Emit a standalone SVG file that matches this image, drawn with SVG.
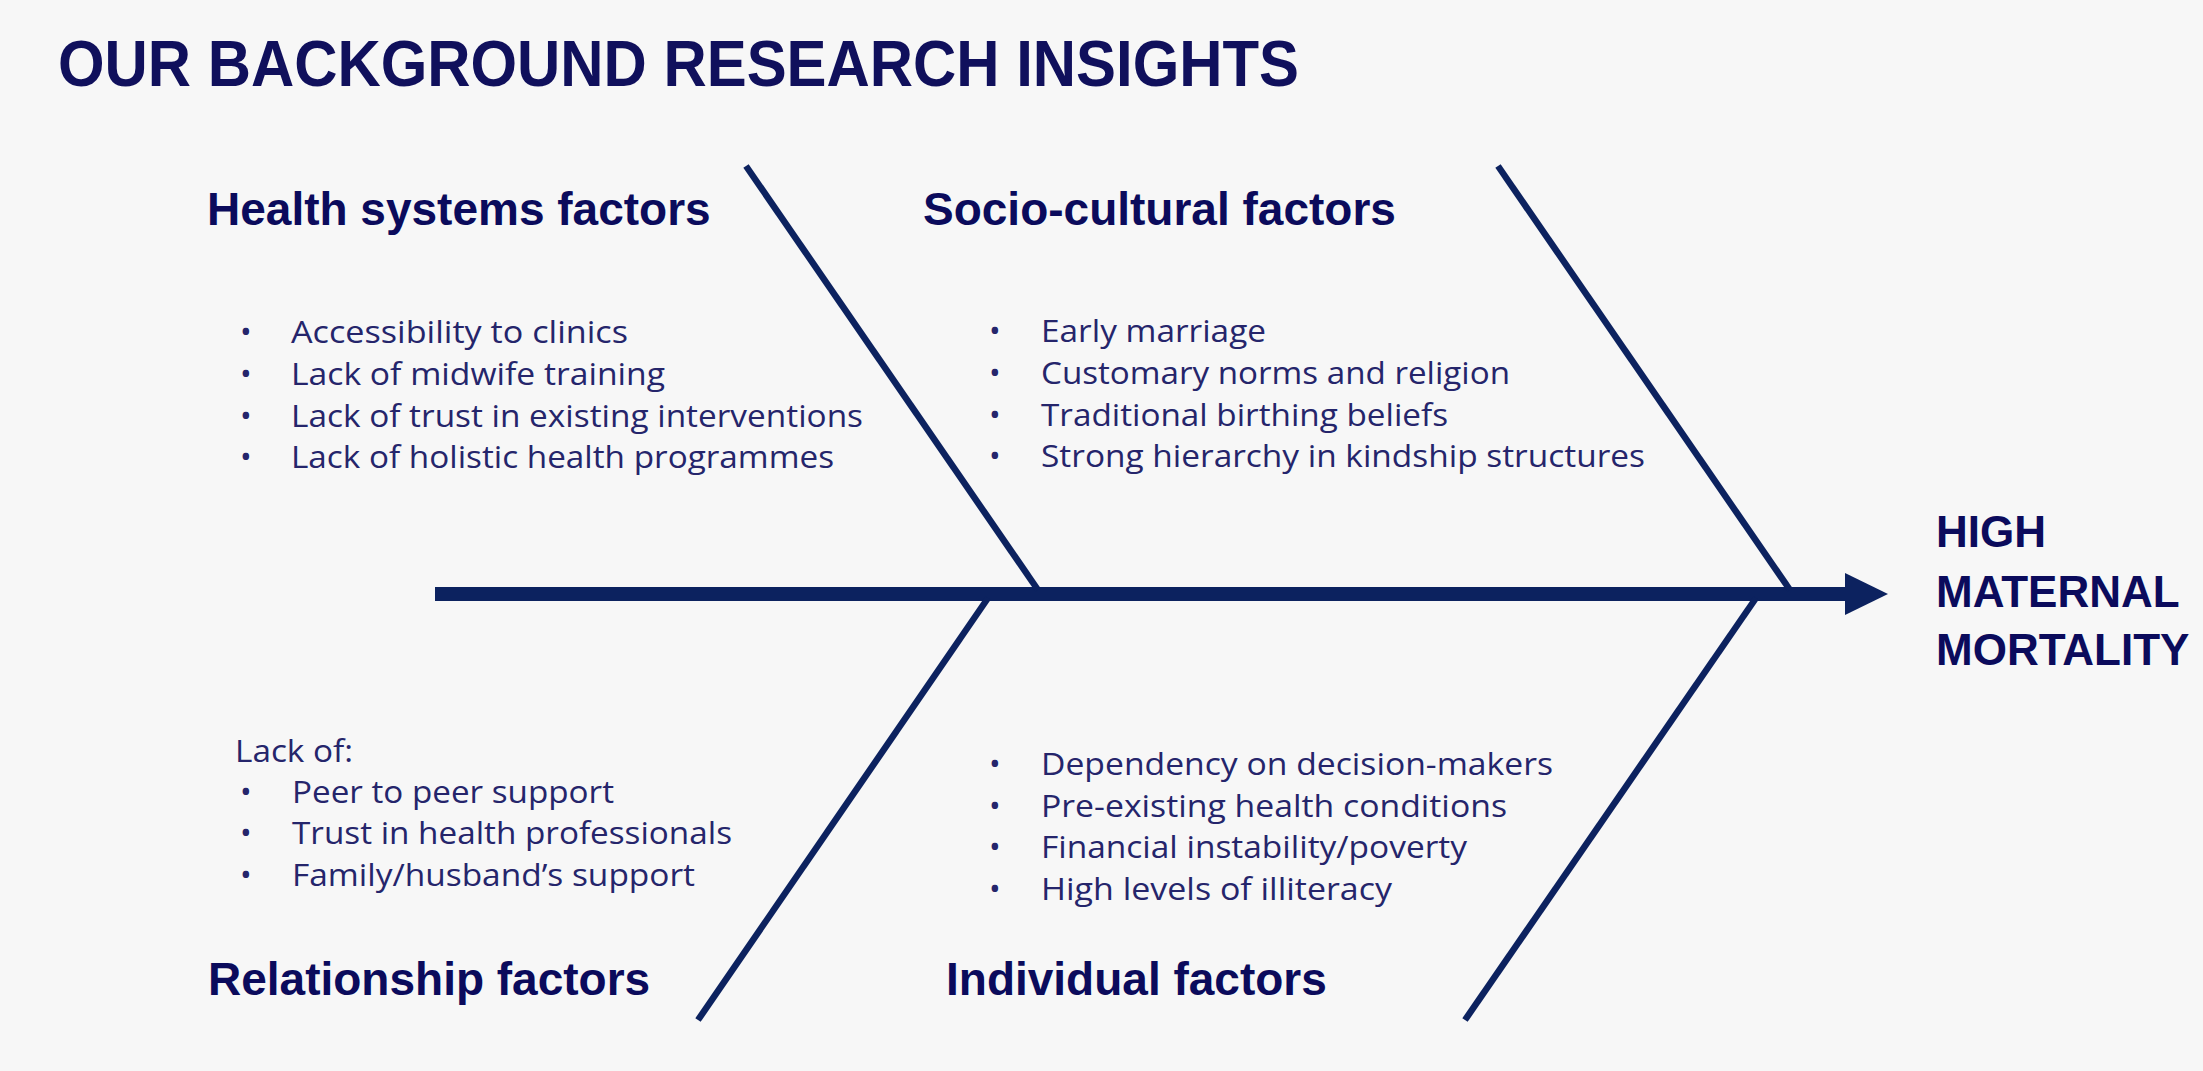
<svg xmlns="http://www.w3.org/2000/svg" width="2203" height="1071" viewBox="0 0 2203 1071">
<style>
.title{font-family:"Liberation Sans",Arial,sans-serif;font-weight:700;font-size:64px;fill:#10105c}
.head{font-family:"Liberation Sans",Arial,sans-serif;font-weight:700;font-size:46px;fill:#0b0b5c}
.effect{font-family:"Liberation Sans",Arial,sans-serif;font-weight:700;font-size:44px;fill:#0b0b5c}
.body{font-family:"Open Sans","Liberation Sans",sans-serif;font-size:31px;fill:#25256b}
.bone{stroke:#0c225f;stroke-width:6.5;fill:none}
</style>
<rect width="2203" height="1071" fill="#f7f7f7"/>
<text class="title" x="58" y="86" textLength="1241" lengthAdjust="spacingAndGlyphs">OUR BACKGROUND RESEARCH INSIGHTS</text>
<g id="connectors">
<line x1="435" y1="594" x2="1850" y2="594" stroke="#0c225f" stroke-width="14"/>
<polygon points="1845,573 1888,594 1845,615" fill="#0c225f"/>
<line class="bone" x1="746" y1="166" x2="1038" y2="590"/>
<line class="bone" x1="1498" y1="166" x2="1790" y2="590"/>
<line class="bone" x1="988" y1="598" x2="698" y2="1020"/>
<line class="bone" x1="1756" y1="598" x2="1465" y2="1020"/>
</g>
<g id="health-systems">
<text class="head" x="207" y="225">Health systems factors</text>
<text class="body" x="240" y="343">•</text><text class="body" x="291" y="343" textLength="337" lengthAdjust="spacingAndGlyphs">Accessibility to clinics</text>
<text class="body" x="240" y="385">•</text><text class="body" x="291" y="385" textLength="374" lengthAdjust="spacingAndGlyphs">Lack of midwife training</text>
<text class="body" x="240" y="427">•</text><text class="body" x="291" y="427" textLength="572" lengthAdjust="spacingAndGlyphs">Lack of trust in existing interventions</text>
<text class="body" x="240" y="468">•</text><text class="body" x="291" y="468" textLength="543" lengthAdjust="spacingAndGlyphs">Lack of holistic health programmes</text>
</g>
<g id="socio-cultural">
<text class="head" x="923" y="225">Socio-cultural factors</text>
<text class="body" x="989" y="342">•</text><text class="body" x="1041" y="342" textLength="225" lengthAdjust="spacingAndGlyphs">Early marriage</text>
<text class="body" x="989" y="384">•</text><text class="body" x="1041" y="384" textLength="469" lengthAdjust="spacingAndGlyphs">Customary norms and religion</text>
<text class="body" x="989" y="426">•</text><text class="body" x="1041" y="426" textLength="407" lengthAdjust="spacingAndGlyphs">Traditional birthing beliefs</text>
<text class="body" x="989" y="467">•</text><text class="body" x="1041" y="467" textLength="604" lengthAdjust="spacingAndGlyphs">Strong hierarchy in kindship structures</text>
</g>
<g id="relationship">
<text class="body" x="235" y="762" textLength="118" lengthAdjust="spacingAndGlyphs">Lack of:</text>
<text class="body" x="240" y="803">•</text><text class="body" x="292" y="803" textLength="322" lengthAdjust="spacingAndGlyphs">Peer to peer support</text>
<text class="body" x="240" y="844">•</text><text class="body" x="292" y="844" textLength="440" lengthAdjust="spacingAndGlyphs">Trust in health professionals</text>
<text class="body" x="240" y="886">•</text><text class="body" x="292" y="886" textLength="403" lengthAdjust="spacingAndGlyphs">Family/husband’s support</text>
<text class="head" x="208" y="995">Relationship factors</text>
</g>
<g id="individual">
<text class="body" x="989" y="775">•</text><text class="body" x="1041" y="775" textLength="512" lengthAdjust="spacingAndGlyphs">Dependency on decision-makers</text>
<text class="body" x="989" y="817">•</text><text class="body" x="1041" y="817" textLength="466" lengthAdjust="spacingAndGlyphs">Pre-existing health conditions</text>
<text class="body" x="989" y="858">•</text><text class="body" x="1041" y="858" textLength="426" lengthAdjust="spacingAndGlyphs">Financial instability/poverty</text>
<text class="body" x="989" y="900">•</text><text class="body" x="1041" y="900" textLength="351" lengthAdjust="spacingAndGlyphs">High levels of illiteracy</text>
<text class="head" x="946" y="995">Individual factors</text>
</g>
<g id="outcome">
<text class="effect" x="1936" y="547">HIGH</text>
<text class="effect" x="1936" y="607">MATERNAL</text>
<text class="effect" x="1936" y="665">MORTALITY</text>
</g>
</svg>
